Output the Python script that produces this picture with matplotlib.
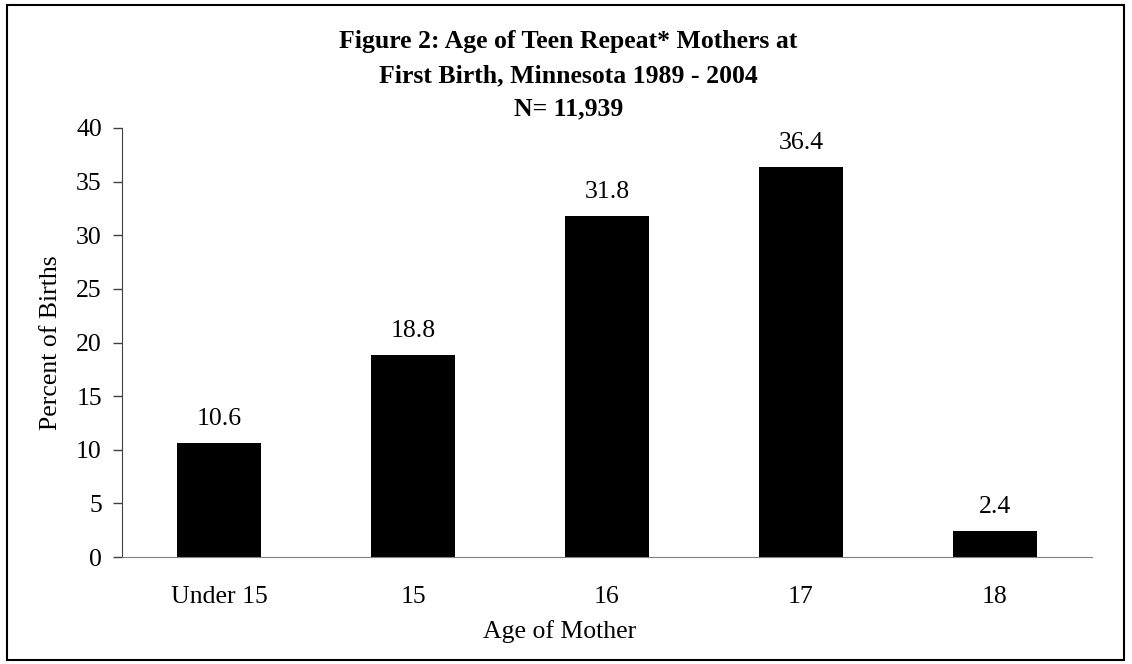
import matplotlib
matplotlib.use("Agg")
import matplotlib.pyplot as plt
from matplotlib.patches import Rectangle

plt.rcParams['font.family'] = ['Liberation Serif', 'DejaVu Serif']

# data
ages = ['Under 15', '15', '16', '17', '18']
percent = [10.6, 18.8, 31.8, 36.4, 2.4]
title_lines = ['Figure 2: Age of Teen Repeat* Mothers at',
               'First Birth, Minnesota 1989 - 2004',
               'N= 11,939']

fs = 18.5

fig = plt.figure(figsize=(11.32, 6.64), dpi=100)
ax = fig.add_axes([122 / 1132, 1 - 557 / 664, 970 / 1132, 429 / 664])

x = range(len(ages))
bars = ax.bar(x, percent, width=0.43, color='black')

for b, v in zip(bars, percent):
    ax.annotate(f'{v:.1f}', (b.get_x() + b.get_width() / 2, v),
                xytext=(0, 13), textcoords='offset points',
                ha='center', va='baseline', fontsize=fs)

ax.set_xlim(-0.5, len(ages) - 0.5)
ax.set_ylim(0, 40)
ax.set_yticks(range(0, 41, 5))
ax.set_xticks(list(x))
ax.set_xticklabels(ages)
ax.tick_params(axis='x', length=0, pad=21, labelsize=fs)
ax.tick_params(axis='y', length=6.5, width=1, color='#404040', pad=8, labelsize=fs)

for s in ['top', 'right']:
    ax.spines[s].set_visible(False)
ax.spines['left'].set_color('#404040')
ax.spines['bottom'].set_color('#808080')

# x label sits centred on the figure, not on the plot area
ax.set_xlabel('Age of Mother', fontsize=fs, va='baseline')
ax.xaxis.set_label_coords((560 - 122) / 970, (557 - 638) / 429)
ax.set_ylabel('Percent of Births', fontsize=fs)
ax.yaxis.set_label_coords(-0.062, 0.5)

# three title lines, centred on the figure
for txt, yb in zip(title_lines, [0.9277, 0.8765, 0.8268]):
    fig.text(0.502, yb, txt, ha='center', va='baseline',
             fontsize=fs, fontweight='bold')

# frame around the whole chart
fig.patches.append(Rectangle((7 / 1132, 4 / 664), 1117 / 1132, 655 / 664,
                             transform=fig.transFigure, fill=False,
                             edgecolor='black', linewidth=1.5))

fig.savefig('out.png', dpi=100)
